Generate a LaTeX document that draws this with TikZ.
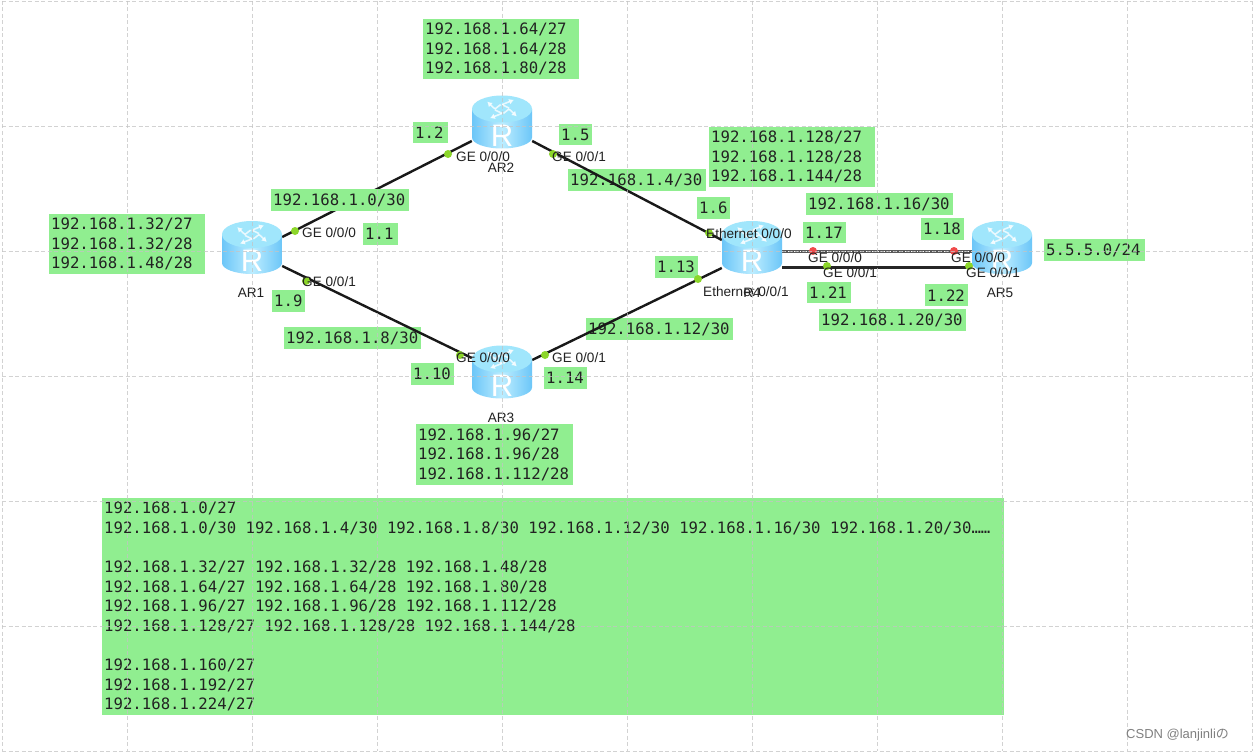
\documentclass[tikz,border=0pt]{standalone}
\usepackage{fontspec}
\setmainfont{Liberation Sans}
\newfontfamily\monof{DejaVu Sans Mono}
\newfontfamily\cjkf{Noto Sans CJK SC}
\usetikzlibrary{arrows.meta}
\definecolor{tagg}{HTML}{90EE90}
\definecolor{ink}{HTML}{222222}
\definecolor{gridc}{HTML}{C4C4C4}
\definecolor{dotg}{HTML}{8CD62A}
\definecolor{dotr}{HTML}{F04A4A}
\definecolor{rtop}{HTML}{A0E6FC}
\definecolor{redge}{HTML}{6CC6F8}
\definecolor{rmid}{HTML}{BCEDFF}
\tikzset{
  tag/.style={fill=tagg,inner xsep=2pt,inner ysep=0pt,align=left,text=ink,
    font=\monof\fontsize{15.66}{19.6}\selectfont},
  rnode/.style={minimum width=60pt,minimum height=53pt,inner sep=0pt},
  link/.style={line width=2.4pt,color=black!90},
  portdot/.style={circle,inner sep=0pt,minimum size=8pt,fill=dotg},
  portred/.style={circle,inner sep=0pt,minimum size=8pt,fill=dotr},
  plabel/.style={inner sep=0pt,text=ink,font=\fontsize{13.6}{15}\selectfont,anchor=west},
  rname/.style={inner sep=0pt,text=ink,font=\fontsize{13.6}{15}\selectfont},
  gridl/.style={gridc,line width=0.9pt,dash pattern=on 4pt off 2.5pt,opacity=.75},
  warrow/.style={white,opacity=.75,line width=1.6pt,-{Latex[length=5pt,width=6pt]}},
}
% name, x0, y0, x1, y1, text
\newcommand{\tagbox}[6]{%
  \pgfmathsetmacro{\tagw}{#4-#2}\pgfmathsetmacro{\tagh}{#5-#3}\pgfmathsetmacro{\tagi}{#4-#2-4}%
  \node[tag,anchor=north west,minimum width=\tagw pt,minimum height=\tagh pt,text width=\tagi pt] (#1) at (#2,#3) {\spaceskip=9.43pt\relax #6};}
% router art on top of its named node
\newcommand{\routerart}[1]{%
  \begin{scope}[shift={(#1.center)}]
    \path[left color=redge,right color=redge,middle color=rmid]
      (-30,-13.5) -- (-30,15) arc[start angle=180,end angle=0,x radius=30,y radius=11] -- (30,-13.5) -- cycle;
    \path[fill=rtop] (0,-13.5) ellipse[x radius=30,y radius=13.5];
    \foreach \a in {45,135,225,315}{
      \begin{scope}[shift={(0,-13.5)},yscale=.62,rotate=\a]
        \draw[warrow] (5,-5) -- (19,-2);
        \draw[white,opacity=.75,line width=1.6pt] (5,-5) -- (6,4);
      \end{scope}}
    \node[inner sep=0pt,text=white,font=\fontsize{31}{31}\selectfont] at (0,13) {R};
  \end{scope}}
\begin{document}
\begin{tikzpicture}[x=1pt,y=-1pt]
\useasboundingbox (0,0) rectangle (1254,752);
\fill[white] (0,0) rectangle (1254,752);
% router nodes
\node[rnode] (ar1) at (252,248) {};
\node[rnode] (ar2) at (502,122.5) {};
\node[rnode] (ar3) at (502,372.5) {};
\node[rnode] (r4) at (752,248) {};
\node[rnode] (ar5) at (1002,248) {};
% tags
\tagbox{t1}{423}{19}{579}{79}{192.168.1.64/27\\192.168.1.64/28\\192.168.1.80/28}
\tagbox{t2}{413}{122}{448}{143}{1.2}
\tagbox{t3}{559}{124}{592}{145}{1.5}
\tagbox{t4}{709}{127}{875}{187}{192.168.1.128/27\\192.168.1.128/28\\192.168.1.144/28}
\tagbox{t5}{568}{169}{706}{191}{192.168.1.4/30}
\tagbox{t6}{697}{197}{730}{219}{1.6}
\tagbox{t7}{806}{193}{953}{215}{192.168.1.16/30}
\tagbox{t8}{803}{222}{846}{243}{1.17}
\tagbox{t9}{921}{218}{964}{240}{1.18}
\tagbox{t10}{1044}{239}{1145}{261}{5.5.5.0/24}
\tagbox{t11}{807}{282}{851}{303}{1.21}
\tagbox{t12}{925}{284}{968}{306}{1.22}
\tagbox{t13}{819}{309}{966}{331}{192.168.1.20/30}
\tagbox{t14}{586}{318}{733}{340}{192.168.1.12/30}
\tagbox{t15}{655}{256}{698}{278}{1.13}
\tagbox{t16}{49}{214}{205}{274}{192.168.1.32/27\\192.168.1.32/28\\192.168.1.48/28}
\tagbox{t18}{363}{223}{398}{245}{1.1}
\tagbox{t19}{272}{290}{305}{312}{1.9}
\tagbox{t20}{284}{327}{421}{349}{192.168.1.8/30}
\tagbox{t21}{411}{363}{454}{385}{1.10}
\tagbox{t22}{544}{367}{587}{389}{1.14}
\tagbox{t23}{416}{424}{573}{485}{192.168.1.96/27\\192.168.1.96/28\\192.168.1.112/28}
\tagbox{t24}{102}{498}{1004}{715}{192.168.1.0/27\\
192.168.1.0/30 192.168.1.4/30 192.168.1.8/30 192.168.1.12/30 192.168.1.16/30 192.168.1.20/30……\\
\strut\\
192.168.1.32/27 192.168.1.32/28 192.168.1.48/28\\
192.168.1.64/27 192.168.1.64/28 192.168.1.80/28\\
192.168.1.96/27 192.168.1.96/28 192.168.1.112/28\\
192.168.1.128/27 192.168.1.128/28 192.168.1.144/28\\
\strut\\
192.168.1.160/27\\
192.168.1.192/27\\
192.168.1.224/27}
% links
\draw[link] ([yshift=11pt]ar1.east) -- ([yshift=-18.5pt]ar2.west);
\draw[link] ([yshift=-18.5pt]ar2.east) -- ([yshift=8pt]r4.west);
\draw[link] ([yshift=-18pt]ar1.east) -- ([yshift=14.5pt]ar3.west);
\draw[link] ([yshift=12.5pt]ar3.east) -- ([yshift=-20pt]r4.west);
\draw[line width=3pt,color=black!65] ([yshift=-3.5pt]r4.east) -- ([yshift=-3.5pt]ar5.west);
\draw[line width=1pt,white,dash pattern=on 1pt off 2pt] ([yshift=-3.5pt]r4.east) -- ([yshift=-3.5pt]ar5.west);
\draw[line width=3pt,color=black!85] ([yshift=-19pt]r4.east) -- ([yshift=-19pt]ar5.west);
% this tag covers its link
\tagbox{t17}{271}{189}{409}{211}{192.168.1.0/30}
% routers
\routerart{ar1}\routerart{ar2}\routerart{ar3}\routerart{r4}\routerart{ar5}
% port dots
\node[portdot] (d1) at (295,231) {};
\node[portdot] (d2) at (448,154) {};
\node[portdot] (d3) at (553,154) {};
\node[portdot] (d4) at (709,233) {};
\node[portdot] (d5) at (306,281) {};
\node[portdot] (d6) at (460,355) {};
\node[portdot] (d7) at (545,355) {};
\node[portdot] (d8) at (698,279) {};
\node[portred] (d9) at (813,251) {};
\node[portred] (d10) at (954,251) {};
\node[portdot] (d11) at (827,266) {};
\node[portdot] (d12) at (969,266) {};
% router names
\node[rname] (n1) at (251,293) {AR1};
\node[rname] (n2) at (501,168) {AR2};
\node[rname] (n3) at (501,418) {AR3};
\node[rname] (n4) at (752,293) {R4};
\node[rname] (n5) at (1000,293) {AR5};
% port labels
\node[plabel] (p1) at (302,233) {GE 0/0/0};
\node[plabel] (p2) at (456,157) {GE 0/0/0};
\node[plabel] (p3) at (552,157) {GE 0/0/1};
\node[plabel] (p4) at (706,234) {Ethernet 0/0/0};
\node[plabel] (p5) at (302,282) {GE 0/0/1};
\node[plabel] (p6) at (456,358) {GE 0/0/0};
\node[plabel] (p7) at (552,358) {GE 0/0/1};
\node[plabel] (p8) at (703,292) {Ethernet 0/0/1};
\node[plabel] (p9) at (808,258) {GE 0/0/0};
\node[plabel] (p10) at (823,273) {GE 0/0/1};
\node[plabel] (p11) at (951,258) {GE 0/0/0};
\node[plabel] (p12) at (966,273) {GE 0/0/1};
% grid
\foreach \gx in {2,127,252,377,502,627,752,877,1002,1127,1252}{\draw[gridl] (\gx,1) -- (\gx,751);}
\foreach \gy in {1,126,251,376,501,626,751}{\draw[gridl] (2,\gy) -- (1252,\gy);}
% watermark
\node[inner sep=0pt,anchor=west,text=black!50,font=\fontsize{13}{15}\selectfont] (wm) at (1126,735) {CSDN @lanjinli{\cjkf の}};
\end{tikzpicture}
\end{document}
